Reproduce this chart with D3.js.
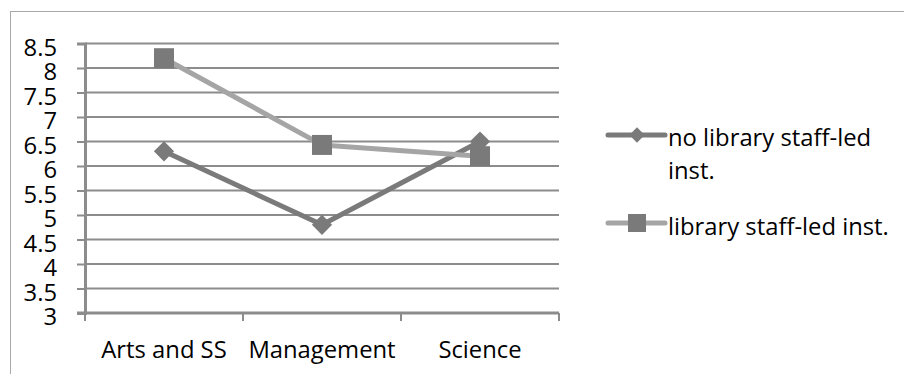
<!DOCTYPE html>
<html>
<head>
<meta charset="utf-8">
<script src="https://cdn.jsdelivr.net/npm/d3@7"></script>
<style>
  html, body { margin: 0; padding: 0; background: #fff; }
  svg text { font-family: "Open Sans", Lato, sans-serif; fill: #000; }
</style>
</head>
<body>
<svg id="chart" width="904" height="374"></svg>
<script>
// Mean scores by faculty, with and without library staff-led instruction
const categories = ["Arts and SS", "Management", "Science"];
const noLibraryValues = [6.3, 4.8, 6.5];
const libraryValues = [8.2, 6.43, 6.2];
const seriesNames = ["no library staff-led inst.", "library staff-led inst."];
const yTicks = [3, 3.5, 4, 4.5, 5, 5.5, 6, 6.5, 7, 7.5, 8, 8.5];

const svg = d3.select("#chart");
const fontSize = 23.8;
const fontFamily = "'Open Sans', Lato, sans-serif";

// Outer chart frame (runs off the right and bottom edges)
svg.append("rect")
  .attr("x", 10.5).attr("y", 11.5)
  .attr("width", 1000).attr("height", 1000)
  .attr("fill", "none").attr("stroke", "#a9a9a9").attr("stroke-width", 1);

const plot = { left: 85, right: 559, top: 43.5, bottom: 313 };

const x = d3.scaleBand().domain(categories).range([plot.left, plot.right]);
const y = d3.scaleLinear().domain([3, 8.5]).range([plot.bottom, plot.top]);

const gridColor = "#8c8c8c";

// Horizontal gridlines
svg.append("g").selectAll("line").data(yTicks.filter(t => t > 3)).join("line")
  .attr("x1", plot.left).attr("x2", plot.right)
  .attr("y1", d => y(d)).attr("y2", d => y(d))
  .attr("stroke", gridColor).attr("stroke-width", 2);

// Y axis
const yAxis = svg.append("g")
  .attr("transform", `translate(${plot.left},0)`)
  .call(d3.axisLeft(y).tickValues(yTicks).tickFormat(d3.format("")).tickSize(8).tickPadding(20));
yAxis.select(".domain").attr("stroke", gridColor).attr("stroke-width", 3);
yAxis.selectAll(".tick line").attr("stroke", gridColor).attr("stroke-width", 2);
yAxis.selectAll(".tick text").attr("font-size", fontSize).attr("dy", "0.5em")
  .style("font-family", fontFamily);

// X axis with ticks at category boundaries
const xAxisG = svg.append("g").attr("transform", `translate(0,${plot.bottom})`);
xAxisG.append("line")
  .attr("x1", plot.left - 8).attr("x2", plot.right)
  .attr("stroke", gridColor).attr("stroke-width", 3);
const boundaries = categories.map(c => x(c)).concat([x(categories[categories.length - 1]) + x.bandwidth()]);
xAxisG.selectAll("line.tk").data(boundaries).join("line").attr("class", "tk")
  .attr("x1", d => d).attr("x2", d => d).attr("y1", 0).attr("y2", 8)
  .attr("stroke", gridColor).attr("stroke-width", 2);
xAxisG.selectAll("text").data(categories).join("text")
  .attr("x", d => x(d) + x.bandwidth() / 2)
  .attr("y", 45)
  .attr("text-anchor", "middle")
  .attr("font-size", fontSize)
  .text(d => d);

const cx = c => x(c) + x.bandwidth() / 2;
const line = d3.line().x((d, i) => cx(categories[i])).y(d => y(d));

const diamond = d3.symbol().type(d3.symbolDiamond2);
const darkGray = "#7a7a7a";
const lightGray = "#a5a5a5";

// Series 1: no library staff-led instruction
svg.append("path").datum(noLibraryValues)
  .attr("d", line).attr("fill", "none")
  .attr("stroke", darkGray).attr("stroke-width", 5).attr("stroke-linejoin", "round");
svg.append("g").selectAll("path").data(noLibraryValues).join("path")
  .attr("transform", (d, i) => `translate(${cx(categories[i])},${y(d)})`)
  .attr("d", diamond.size(260)())
  .attr("fill", darkGray);

// Series 2: library staff-led instruction
svg.append("path").datum(libraryValues)
  .attr("d", line).attr("fill", "none")
  .attr("stroke", lightGray).attr("stroke-width", 5).attr("stroke-linejoin", "round");
const sq = 20;
svg.append("g").selectAll("rect").data(libraryValues).join("rect")
  .attr("x", (d, i) => cx(categories[i]) - sq / 2)
  .attr("y", d => y(d) - sq / 2)
  .attr("width", sq).attr("height", sq)
  .attr("fill", darkGray);

// Legend
const legend = svg.append("g");
const lx1 = 608, lx2 = 665, lmid = 637;
legend.append("line").attr("x1", lx1).attr("x2", lx2).attr("y1", 135).attr("y2", 135)
  .attr("stroke", darkGray).attr("stroke-width", 5).attr("stroke-linecap", "round");
legend.append("path").attr("transform", `translate(${lmid},135)`)
  .attr("d", d3.symbol().type(d3.symbolDiamond2).size(150)()).attr("fill", darkGray);
legend.append("text").attr("x", 668).attr("y", 146).attr("font-size", fontSize)
  .text("no library staff-led");
legend.append("text").attr("x", 668).attr("y", 179).attr("font-size", fontSize)
  .text("inst.");

legend.append("line").attr("x1", lx1).attr("x2", lx2).attr("y1", 223).attr("y2", 223)
  .attr("stroke", lightGray).attr("stroke-width", 5).attr("stroke-linecap", "round");
legend.append("rect").attr("x", lmid - 9).attr("y", 214).attr("width", 18).attr("height", 18)
  .attr("fill", darkGray);
legend.append("text").attr("x", 668).attr("y", 235).attr("font-size", fontSize)
  .text(seriesNames[1]);
</script>
</body>
</html>
